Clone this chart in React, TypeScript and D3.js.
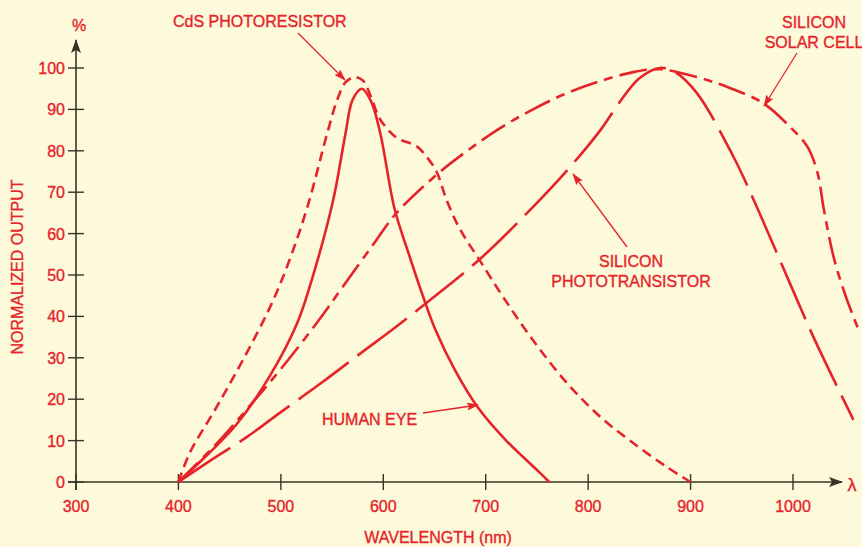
import React from "react";
import * as d3 from "d3";

// Wavelength (nm) ticks and normalized output (%) ticks
const WAVELENGTH_TICKS = [300, 400, 500, 600, 700, 800, 900, 1000];
const OUTPUT_TICKS = [0, 10, 20, 30, 40, 50, 60, 70, 80, 90, 100];

// Spectral response curves: [wavelength nm, normalized output %]
const HUMAN_EYE: [number, number][] = [
  [400, 0], [430, 7], [457, 14], [489, 25.5], [516, 38.4], [531, 49.5],
  [551, 68], [563, 84], [570, 92.3], [579, 95], [588, 92], [597, 84.3],
  [611, 66], [625, 55], [639, 44.7], [651, 36.7], [670, 27], [692, 18.1],
  [720, 10], [753, 2.2], [762, 0],
];

const CDS_PHOTORESISTOR: [number, number][] = [
  [400, 0], [411, 7], [437, 18], [463, 29.5], [489, 42], [506, 52],
  [526, 66.5], [545, 84], [555, 92.3], [563, 96.5], [572, 97.8], [580, 97],
  [588, 93], [596, 88], [605, 85], [614, 83], [633, 81], [644, 78],
  [652, 75], [662, 68], [675, 61], [694, 53.6], [717, 44.7], [746, 34.3],
  [779, 24], [812, 15.7], [844, 9.4], [877, 3.6], [900, 0],
];

const SILICON_SOLAR_CELL: [number, number][] = [
  [400, 0], [440, 10], [470, 18.5], [500, 27.3], [535, 38.4], [560, 47],
  [590, 57.3], [613, 65], [652, 74.2], [682, 80], [711, 85], [743, 89.6],
  [776, 93.6], [809, 96.6], [844, 99], [870, 99.7], [906, 97.8],
  [936, 95.4], [971, 91.5], [997, 85.8], [1014, 81], [1024, 74.6],
  [1030, 66], [1040, 54], [1052, 44.5], [1063, 37.4],
];

const SILICON_PHOTOTRANSISTOR: [number, number][] = [
  [400, 0], [430, 5], [467, 10.9], [499, 16.7], [541, 24.2], [580, 31.5],
  [610, 37], [646, 44], [695, 54], [746, 66.4], [782, 76], [812, 85],
  [830, 91.5], [850, 97.5], [870, 100], [885, 99], [906, 94], [942, 78.5],
  [961, 68.5], [990, 52], [1020, 35], [1059, 15],
];

const RED = "#e6232b";
const AXIS = "#3a3223";
const BG = "#fcfadb";
const FONT = "'Liberation Sans', Arial, sans-serif";

export default function App() {
  const width = 862;
  const height = 547;

  const x = d3.scaleLinear().domain([300, 1000]).range([76, 793]);
  const y = d3.scaleLinear().domain([0, 100]).range([482, 68]);

  const line = d3
    .line<[number, number]>()
    .x((d) => x(d[0]))
    .y((d) => y(d[1]))
    .curve(d3.curveCatmullRom.alpha(0.5));

  const series = [
    { data: SILICON_PHOTOTRANSISTOR, dash: "62,11" },
    { data: SILICON_SOLAR_CELL, dash: "28,7,9,7" },
    { data: CDS_PHOTORESISTOR, dash: "10,6" },
    { data: HUMAN_EYE, dash: undefined as string | undefined },
  ];

  const textStyle = {
    fontFamily: FONT,
    fontSize: 16,
    fill: RED,
    stroke: RED,
    strokeWidth: 0.35,
  } as React.CSSProperties;

  const annotations = [
    { x1: 298, y1: 33, x2: 345, y2: 80 },
    { x1: 797, y1: 53, x2: 764, y2: 106 },
    { x1: 627, y1: 247, x2: 573, y2: 174 },
    { x1: 423, y1: 413, x2: 478, y2: 405 },
  ];

  return (
    <svg
      width={width}
      height={height}
      style={{ position: "absolute", left: 0, top: 0, background: BG }}
    >
      <defs>
        <marker
          id="callout"
          viewBox="0 0 12 8"
          refX={11}
          refY={4}
          markerWidth={12}
          markerHeight={8}
          markerUnits="userSpaceOnUse"
          orient="auto"
        >
          <path d="M0,0 L12,4 L0,8 L2,4 z" fill={RED} />
        </marker>
        <marker
          id="axisArrow"
          viewBox="0 0 14 10"
          refX={13}
          refY={5}
          markerWidth={14}
          markerHeight={10}
          markerUnits="userSpaceOnUse"
          orient="auto"
        >
          <path d="M0,0 L14,5 L0,10 L3,5 z" fill={AXIS} />
        </marker>
      </defs>
      <rect width={width} height={height} fill={BG} />

      {/* axes */}
      <line
        x1={x(300)}
        y1={490}
        x2={x(300)}
        y2={40}
        stroke={AXIS}
        strokeWidth={1.6}
        markerEnd="url(#axisArrow)"
      />
      <line
        x1={68}
        y1={y(0)}
        x2={842}
        y2={y(0)}
        stroke={AXIS}
        strokeWidth={1.6}
        markerEnd="url(#axisArrow)"
      />

      {OUTPUT_TICKS.map((t) => (
        <g key={"y" + t}>
          <line
            x1={x(300) - 8}
            x2={x(300) + 8}
            y1={y(t)}
            y2={y(t)}
            stroke={AXIS}
            strokeWidth={1.4}
          />
          <text x={65} y={y(t) + 6} textAnchor="end" style={textStyle}>
            {t}
          </text>
        </g>
      ))}
      {WAVELENGTH_TICKS.map((t) => (
        <g key={"x" + t}>
          <line
            x1={x(t)}
            x2={x(t)}
            y1={y(0) - 8}
            y2={y(0) + 8}
            stroke={AXIS}
            strokeWidth={1.4}
          />
          <text x={x(t)} y={512} textAnchor="middle" style={textStyle}>
            {t}
          </text>
        </g>
      ))}

      <text x={79} y={31} textAnchor="middle" style={textStyle}>
        %
      </text>
      <text x={852} y={491} textAnchor="middle" style={{ ...textStyle, fontSize: 18 }}>
        λ
      </text>
      <text
        transform={`translate(23,267) rotate(-90)`}
        textAnchor="middle"
        style={textStyle}
      >
        NORMALIZED OUTPUT
      </text>
      <text x={438} y={543} textAnchor="middle" style={textStyle}>
        WAVELENGTH (nm)
      </text>

      {/* response curves */}
      {series.map((s, i) => (
        <path
          key={i}
          d={line(s.data) || ""}
          fill="none"
          stroke={RED}
          strokeWidth={2.6}
          strokeDasharray={s.dash}
          strokeLinecap="butt"
          strokeLinejoin="round"
        />
      ))}

      {/* callouts */}
      {annotations.map((a, i) => (
        <line
          key={"a" + i}
          x1={a.x1}
          y1={a.y1}
          x2={a.x2}
          y2={a.y2}
          stroke={RED}
          strokeWidth={1.3}
          markerEnd="url(#callout)"
        />
      ))}
      <text x={173} y={27} style={textStyle}>
        CdS PHOTORESISTOR
      </text>
      <text x={814} y={28} textAnchor="middle" style={textStyle}>
        SILICON
      </text>
      <text x={814} y={48} textAnchor="middle" style={textStyle}>
        SOLAR CELL
      </text>
      <text x={631} y={267} textAnchor="middle" style={textStyle}>
        SILICON
      </text>
      <text x={631} y={287} textAnchor="middle" style={textStyle}>
        PHOTOTRANSISTOR
      </text>
      <text x={322} y={425} style={textStyle}>
        HUMAN EYE
      </text>
    </svg>
  );
}
